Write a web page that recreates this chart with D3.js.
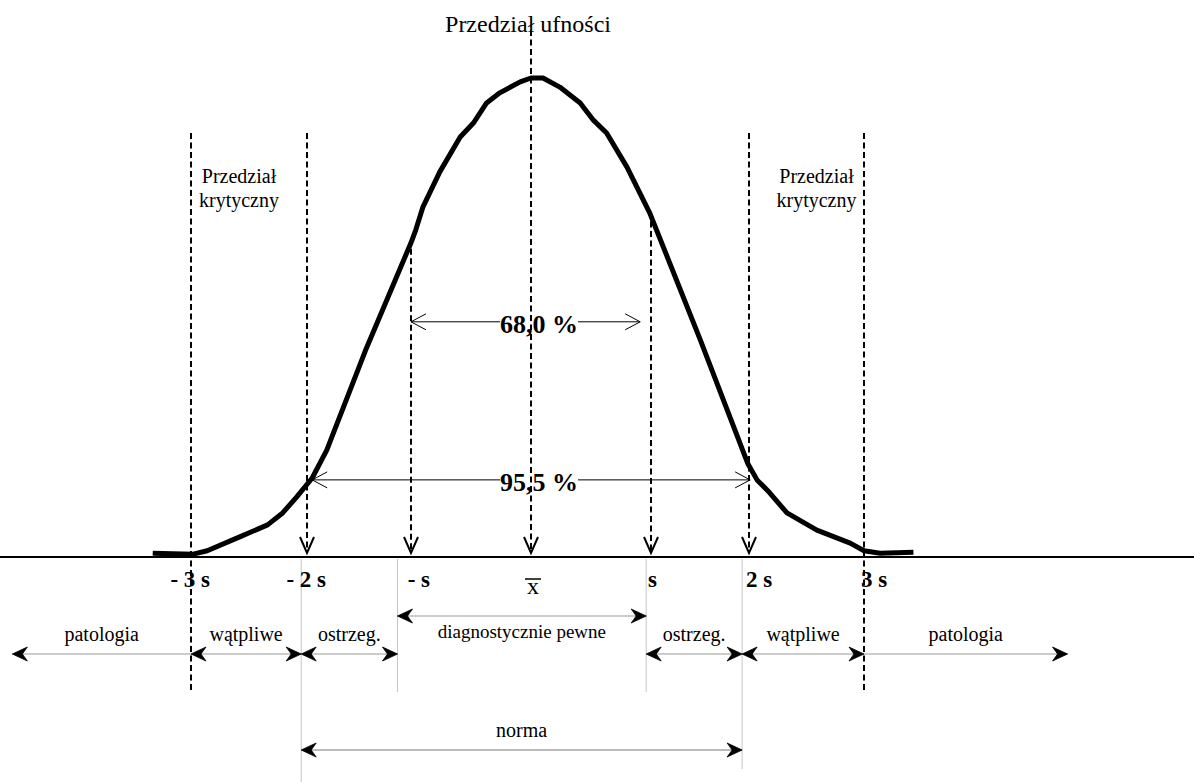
<!DOCTYPE html>
<html>
<head>
<meta charset="utf-8">
<script src="https://cdn.jsdelivr.net/npm/d3@7"></script>
<style>
  html, body { margin: 0; padding: 0; background: #fff; }
  svg { display: block; }
  text { font-family: "Liberation Serif", "Times New Roman", serif; fill: #000; }
</style>
</head>
<body>
<svg id="chart" width="1194" height="782"></svg>
<script>
// ---------- data (x in units of s, height in % of peak) ----------
const curveX = [-3.33, -2.98, -2.86, -2.58, -2.34, -2.21, -2.09, -1.95, -1.81, -1.44, -1.00, -0.96, -0.90, -0.76, -0.59, -0.48, -0.37, -0.26, -0.09, 0.00, 0.10, 0.24, 0.41, 0.52, 0.63, 0.80, 0.99, 1.50, 1.99, 2.07, 2.18, 2.33, 2.59, 2.88, 3.00, 3.14, 3.43];
const curveH = [0.8, 0.6, 1.3, 4.2, 6.7, 9.2, 12.5, 16.5, 22.3, 43.0, 65.6, 68.3, 73.1, 80.4, 87.7, 90.6, 94.8, 96.9, 99.2, 100, 100, 98.1, 94.8, 91.2, 88.5, 81.4, 71.8, 45.5, 19.4, 16.1, 13.4, 9.2, 5.6, 2.9, 1.3, 0.8, 1.0];

const sigmaTicks = [-3, -2, -1, 0, 1, 2, 3];
const tickLabels = ["- 3 s", "- 2 s", "- s", "x", "s", "2 s", "3 s"];
const markerKinds = ["boundary", "limit", "curve", "mean", "curve", "limit", "boundary"];

const intervalLabels = ["68,0 %", "95,5 %"];
const intervalFrom = [-1.00, -1.95];
const intervalTo = [0.91, 2.01];
const intervalLevel = [49.1, 16.1];

const zoneLabels = ["patologia", "wątpliwe", "ostrzeg.", "diagnostycznie pewne", "ostrzeg.", "wątpliwe", "patologia"];
const zoneFrom = [-4.54, -3.00, -2.05, -1.13, 0.96, 1.93, 3.00];
const zoneTo = [-3.00, -2.05, -1.13, 0.96, 1.93, 3.00, 4.77];

const guideEdges = [-2.05, -1.13, 0.96, 1.93];
const normaLabel = "norma";
const normaFrom = -2.05, normaTo = 1.93;

const titleText = "Przedział ufności";
const criticalLines = ["Przedział", "krytyczny"];

// ---------- scales ----------
const svg = d3.select("#chart");
const W = 1194;
const x = d3.scaleLinear().domain(sigmaTicks).range([191, 307, 411, 531, 651, 749, 864]);
const y = d3.scaleLinear().domain([0, 100]).range([557, 78]);
const hAt = d3.scaleLinear().domain(curveX).range(curveH);

const baseY = y(0);
const tallTop = 133;
const boundaryBottom = 690;

// ---------- helpers ----------
function stealth(g, tx, ty, dir) {
  g.append("path")
    .attr("d", "M0,0 L-15,-7 L-10,0 L-15,7 Z")
    .attr("transform", `translate(${tx},${ty}) rotate(${dir > 0 ? 0 : 180})`)
    .attr("fill", "#000").attr("stroke", "#000").attr("stroke-width", 0.8).attr("stroke-linejoin", "miter");
}
function openHead(g, tx, ty, dir) {
  g.append("path")
    .attr("d", "M-15,-8 L0,0 L-15,8")
    .attr("transform", `translate(${tx},${ty}) rotate(${dir > 0 ? 0 : 180})`)
    .attr("fill", "none").attr("stroke", "#000").attr("stroke-width", 1);
}

// ---------- baseline ----------
svg.append("line")
  .attr("x1", 0).attr("x2", W).attr("y1", baseY).attr("y2", baseY)
  .attr("stroke", "#000").attr("stroke-width", 2);

// ---------- grey guide lines ----------
const guideBottoms = { 0: 782, 1: 692, 2: 692, 3: 769 };
svg.append("g").selectAll("line").data(guideEdges).join("line")
  .attr("x1", d => x(d)).attr("x2", d => x(d))
  .attr("y1", baseY + 2).attr("y2", (d, i) => guideBottoms[i])
  .attr("stroke", "#c4c4c4").attr("stroke-width", 1);

// ---------- interval arrows (68 %, 95,5 %) ----------
const ig = svg.append("g");
intervalLabels.forEach((lab, i) => {
  const yy = y(intervalLevel[i]);
  const x1 = x(intervalFrom[i]), x2 = x(intervalTo[i]);
  ig.append("line").attr("x1", x1).attr("x2", x2).attr("y1", yy).attr("y2", yy)
    .attr("stroke", "#000").attr("stroke-width", 1);
  openHead(ig, x1, yy, -1);
  openHead(ig, x2, yy, 1);
  const cx = x(0) + 8;
  ig.append("rect").attr("x", cx - 39).attr("y", yy - 4).attr("width", 78).attr("height", 8).attr("fill", "#fff");
});

// ---------- dashed marker lines ----------
const mg = svg.append("g");
sigmaTicks.forEach((v, i) => {
  const kind = markerKinds[i];
  const xx = x(v);
  let top, bottom = baseY - 4, arrow = true;
  if (kind === "boundary") { top = tallTop; bottom = boundaryBottom; arrow = false; }
  else if (kind === "limit") { top = tallTop; }
  else if (kind === "mean") { top = 30; }
  else { top = y(hAt(v)) + 6; }
  mg.append("line").attr("x1", xx).attr("x2", xx).attr("y1", top).attr("y2", bottom)
    .attr("stroke", "#000").attr("stroke-width", 2).attr("stroke-dasharray", "6,3.5");
  if (arrow) {
    mg.append("path").attr("d", "M-7,-16 L0,0 L7,-16")
      .attr("transform", `translate(${xx},${baseY - 4})`)
      .attr("fill", "none").attr("stroke", "#000").attr("stroke-width", 2);
  }
});

// ---------- curve ----------
const line = d3.line().x((d, i) => x(curveX[i])).y((d, i) => y(curveH[i])).curve(d3.curveLinear);
svg.append("path").datum(curveX).attr("d", line)
  .attr("fill", "none").attr("stroke", "#000").attr("stroke-width", 5)
  .attr("stroke-linejoin", "round").attr("stroke-linecap", "butt");

// ---------- interval labels ----------
intervalLabels.forEach((lab, i) => {
  svg.append("text").attr("x", x(0) + 8).attr("y", y(intervalLevel[i]) + 11)
    .attr("text-anchor", "middle").attr("font-size", 26).attr("font-weight", "bold")
    .text(lab);
});

// ---------- title ----------
svg.append("text").attr("x", x(0) - 3).attr("y", 32).attr("text-anchor", "middle")
  .attr("font-size", 24).text(titleText);

// ---------- critical interval labels ----------
[[-3, -2, -10], [2, 3, 10]].forEach(([a, b, off]) => {
  const cx = (x(a) + x(b)) / 2 + off;
  const t = svg.append("text").attr("text-anchor", "middle").attr("font-size", 20);
  criticalLines.forEach((ln, j) => {
    t.append("tspan").attr("x", cx).attr("y", 183 + j * 24).text(ln);
  });
});

// ---------- tick labels ----------
sigmaTicks.forEach((v, i) => {
  const xx = x(v);
  if (v === 0) {
    svg.append("text").attr("x", xx + 2).attr("y", 594).attr("text-anchor", "middle")
      .attr("font-size", 24).text(tickLabels[i]);
    svg.append("line").attr("x1", xx - 6).attr("x2", xx + 10).attr("y1", 579).attr("y2", 579)
      .attr("stroke", "#000").attr("stroke-width", 1.5);
  } else {
    svg.append("text")
      .attr("x", v < 0 ? xx + 19 : xx - 3).attr("y", 587)
      .attr("text-anchor", v < 0 ? "end" : "start")
      .attr("font-size", 23).attr("font-weight", "bold")
      .text(tickLabels[i]);
  }
});

// ---------- zones ----------
const zg = svg.append("g");
zoneLabels.forEach((lab, i) => {
  const x1 = x(zoneFrom[i]), x2 = x(zoneTo[i]);
  const central = zoneFrom[i] < 0 && zoneTo[i] > 0;
  const ay = central ? 616 : 654;
  const ty = central ? 638 : 641;
  zg.append("line").attr("x1", x1).attr("x2", x2).attr("y1", ay).attr("y2", ay)
    .attr("stroke", "#999").attr("stroke-width", 1);
  if (i !== zoneLabels.length - 1) stealth(zg, x1, ay, -1);
  if (i !== 0) stealth(zg, x2, ay, 1);
  zg.append("text").attr("x", (x1 + x2) / 2).attr("y", ty).attr("text-anchor", "middle")
    .attr("font-size", central ? 19 : 20).text(lab);
});

// ---------- norma ----------
const ny = 750;
svg.append("line").attr("x1", x(normaFrom)).attr("x2", x(normaTo)).attr("y1", ny).attr("y2", ny)
  .attr("stroke", "#777").attr("stroke-width", 1);
stealth(svg, x(normaFrom), ny, -1);
stealth(svg, x(normaTo), ny, 1);
svg.append("text").attr("x", (x(normaFrom) + x(normaTo)) / 2).attr("y", 737)
  .attr("text-anchor", "middle").attr("font-size", 20).text(normaLabel);
</script>
</body>
</html>
